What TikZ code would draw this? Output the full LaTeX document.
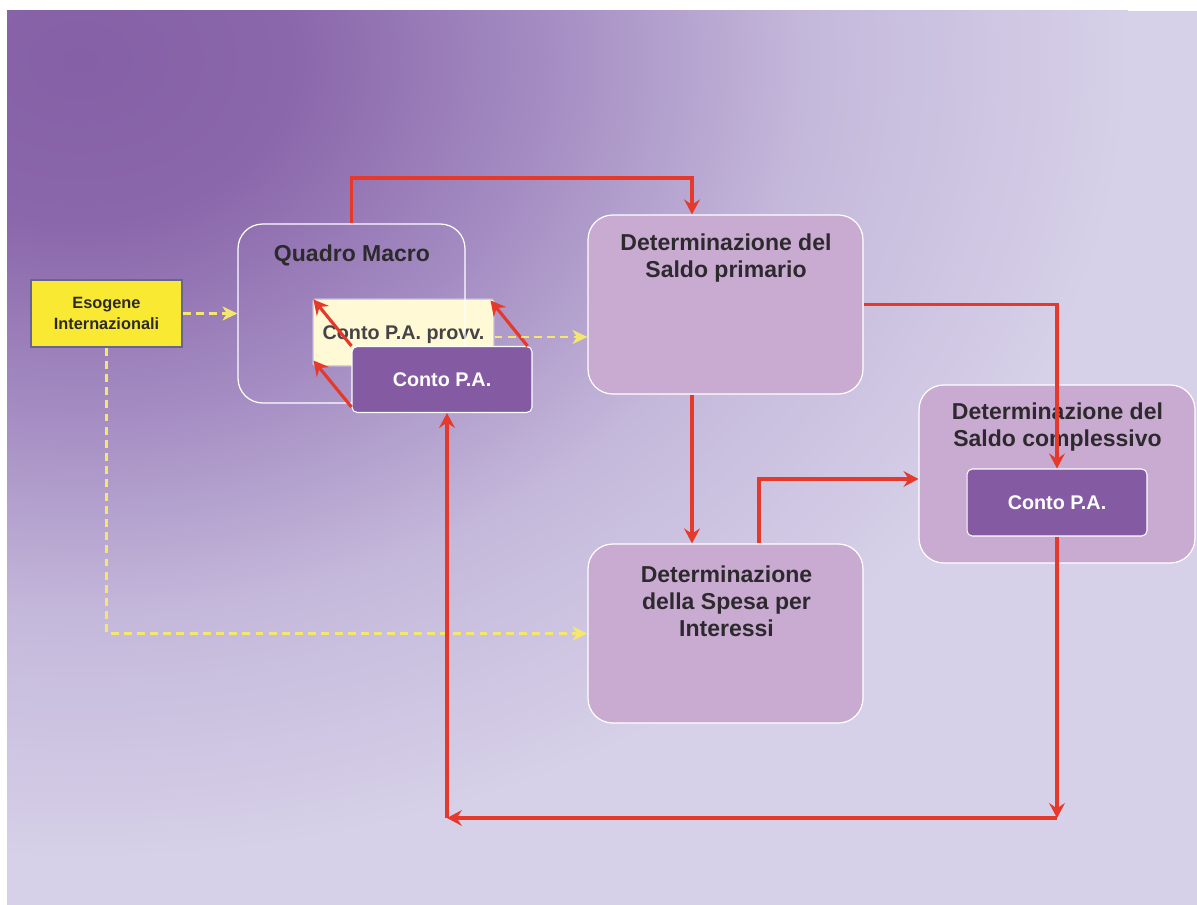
\documentclass[tikz,border=0pt]{standalone}
\usepackage{fontspec}
\setmainfont{Liberation Sans}
\usetikzlibrary{arrows.meta}

\definecolor{bgA}{HTML}{8560A6}
\definecolor{bgB}{HTML}{8A66AA}
\definecolor{bgC}{HTML}{A48CC2}
\definecolor{bgD}{HTML}{C5B9DB}
\definecolor{bgE}{HTML}{D6D0E8}
\definecolor{lilac}{HTML}{C9AAD1}
\definecolor{cpapurple}{HTML}{845BA3}
\definecolor{cream}{HTML}{FFFAD5}
\definecolor{exoyellow}{HTML}{F9E933}
\definecolor{flowred}{HTML}{E5392B}
\definecolor{feedyellow}{HTML}{F4E66E}
\definecolor{ink}{HTML}{2D2A2E}
\definecolor{greyink}{HTML}{454248}

% soft glow spreading from the upper left corner
% (the path fills the 25bp circle of the shading)
\pgfdeclareradialshading{bgglow}{\pgfpoint{0bp}{0bp}}{%
  color(0bp)=(bgA); color(5bp)=(bgB); color(11bp)=(bgC);
  color(17.5bp)=(bgD); color(25bp)=(bgE); color(50bp)=(bgE)}

\begin{document}
\begin{tikzpicture}[x=0.02cm,y=-0.02cm,
  panel/.style={draw=white, line width=0.7pt, rounded corners=14pt,
    fill=lilac, inner sep=0pt, minimum width=5.5cm, minimum height=3.58cm},
  cpabox/.style={draw=white, line width=0.6pt, rounded corners=3pt,
    fill=cpapurple, text=white, inner sep=0pt,
    font=\fontsize{11.25}{13}\selectfont\bfseries,
    minimum width=3.6cm, minimum height=1.32cm},
  head/.style={text=ink, align=center, inner sep=0pt,
    font=\fontsize{13.1}{15.5}\selectfont\bfseries},
  flow/.style={draw=flowred, line width=1.8pt,
    -{Stealth[length=8.5pt,width=9pt,inset=3pt]}},
  feed/.style={draw=feedyellow, line width=1.3pt, dash pattern=on 4.5pt off 3pt,
    -{Stealth[length=8.5pt,width=8pt,inset=2.5pt]}}]

\useasboundingbox (0,0) rectangle (1197,905);

% background
\fill[bgE] (7,11) rectangle (1197,905);
\begin{scope}
  \clip (7,11) rectangle (1197,905);
  \shade[shading=bgglow] (80,60) ellipse [x radius=21cm, y radius=16cm];
\end{scope}

% exogenous inputs
\node[draw=black!70!blue!60, line width=0.8pt, fill=exoyellow, text=ink,
  align=center, inner sep=0pt, minimum width=3.02cm, minimum height=1.34cm,
  font=\fontsize{9.3}{11.5}\selectfont\bfseries]
  (eso) at (106.5,313.5) {Esogene\\Internazionali};

% macro framework with the provisional and final PA accounts
\node[cpabox, fill=cream, draw=bgD, text=greyink, text depth=0pt,
  minimum width=3.62cm, minimum height=1.34cm, rounded corners=1pt]
  (provv) at (403.5,332.5) {Conto P.A. provv.};
\node[draw=white, line width=0.7pt, rounded corners=14pt,
  minimum width=4.54cm, minimum height=3.58cm] (quadro) at (351.5,313.5) {};
\node[head, anchor=base] (quadroT) at (352,262) {Quadro Macro};
\node[cpabox] (cpa1) at (442,379.5) {Conto P.A.};
\draw[flow] ([shift={(-5,0)}]cpa1.north east) -- ([shift={(-4,2)}]provv.north east);
\draw[flow] (cpa1.north west) -- ([shift={(1,1)}]provv.north west);
\draw[flow] ([shift={(0,-6)}]cpa1.south west) -- ([shift={(1,-6)}]provv.south west);

% determination panels
\node[panel] (prim) at (725.5,304.5) {};
\node[head] (primT) at (726,258) {Determinazione del\\Saldo primario};
\node[panel] (spesa) at (725.5,633.5) {};
\node[head] (spesaT) at (726.5,601.5) {Determinazione\\della Spesa per\\Interessi};
\node[panel, minimum width=5.52cm, minimum height=3.56cm] (compl) at (1057,474) {};
\node[head] (complT) at (1057.5,427.3) {Determinazione del\\Saldo complessivo};
\node[cpabox, minimum height=1.34cm] (cpa2) at (1057,502.5) {Conto P.A.};

% routing points
\coordinate (t1) at (692,178);
\coordinate (t2) at (759,479);
\coordinate (b2) at (447,818);
\coordinate (b1) at (cpa2.south |- b2);
\coordinate (pv) at ([yshift=-0.09cm]provv.east);

% dashed feeds of exogenous variables
\draw[feed] (eso.east) -- (quadro.west);
\draw[feed] (pv) -- (pv -| prim.west);
\draw[feed] (eso.south) |- (spesa.west);

% main flows
\draw[flow] (quadro.north) |- (t1) -- (t1 |- prim.north);
\draw[flow] (prim.east) -| (cpa2.north);
\draw[flow] (t1 |- prim.south) -- (t1 |- spesa.north);
\draw[flow] (t2 |- spesa.north) |- (t2 -| compl.west);
\draw[flow] (cpa2.south) -- (b1);
\draw[flow] (b1) -- (b2);
\draw[flow] (b2) -- (b2 |- cpa1.south);

\end{tikzpicture}
\end{document}
